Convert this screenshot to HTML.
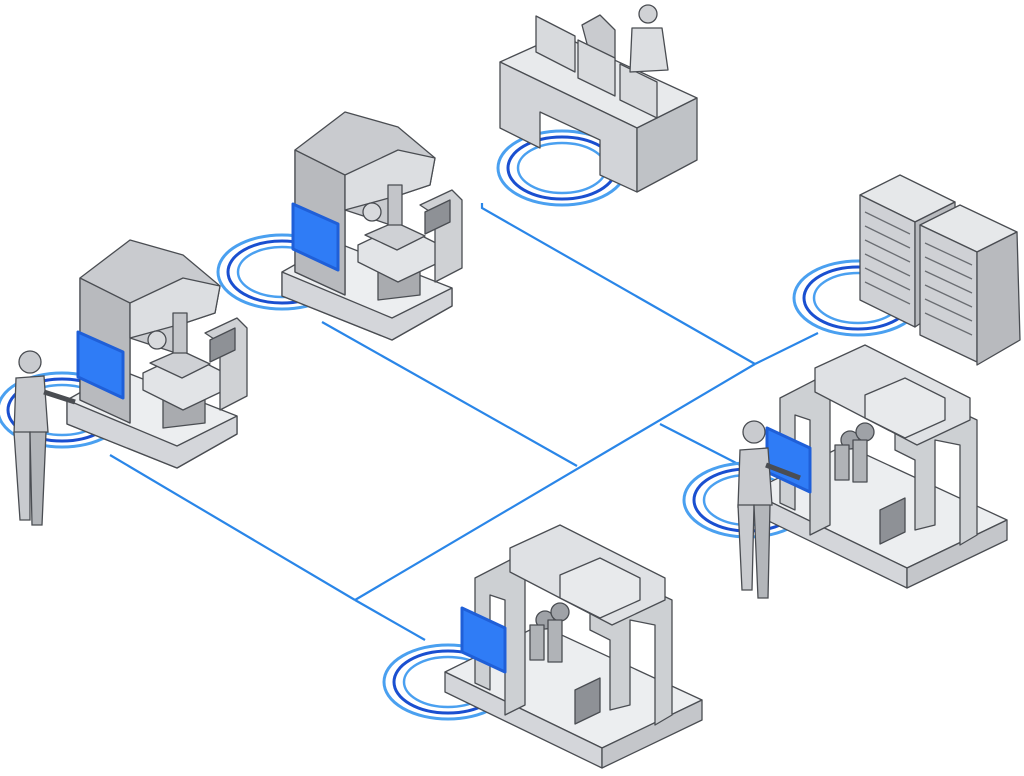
<!DOCTYPE html>
<html><head><meta charset="utf-8"><style>html,body{margin:0;padding:0;background:#fff}svg{display:block}</style></head>
<body>
<svg width="1024" height="776" viewBox="0 0 1024 776" xmlns="http://www.w3.org/2000/svg">
<defs>
<g id="ring">
<ellipse cx="0" cy="0" rx="64" ry="37" fill="none" stroke="#4aa0f0" stroke-width="3"/>
<ellipse cx="0" cy="0" rx="54" ry="31" fill="none" stroke="#1a4fd0" stroke-width="3"/>
<ellipse cx="0" cy="0" rx="44" ry="25" fill="none" stroke="#4aa0f0" stroke-width="2.5"/>
</g>
<g id="cnc" stroke="#4a4d52" stroke-width="1.3" stroke-linejoin="round">
<polygon points="282,272 335,242 452,288 452,306 392,340 282,296" fill="#eceef0"/>
<polygon points="282,272 392,318 452,288 452,306 392,340 282,296" fill="#d4d6da"/>
<polygon points="295,150 345,112 398,127 435,158 430,185 400,195 400,228 345,210 345,295 295,272" fill="#c9cbcf"/>
<polygon points="295,150 345,175 345,295 295,272" fill="#b8babe"/>
<polygon points="345,175 398,150 435,158 430,185 400,195 345,210" fill="#dcdee1"/>
<polygon points="378,265 420,250 420,295 378,300" fill="#a9abaf"/>
<polygon points="358,245 400,225 440,245 440,262 398,282 358,262" fill="#e2e4e7"/>
<polygon points="365,235 395,222 425,236 397,250" fill="#cfd1d5"/>
<rect x="388" y="185" width="14" height="40" fill="#c3c5c9"/>
<circle cx="372" cy="212" r="9" fill="#d8dadd"/>
<polygon points="420,205 452,190 462,200 462,268 435,282 435,215" fill="#cfd1d4"/>
<polygon points="425,212 450,200 450,222 425,234" fill="#8e9196"/>
<polygon points="293,204 338,224 338,270 293,249" fill="#2f7cf6" stroke="#1f5fd8" stroke-width="3"/>
</g>
<g id="robot" stroke="#4a4d52" stroke-width="1.3" stroke-linejoin="round">
<polygon points="445,672 540,625 702,700 602,748" fill="#eceef0"/>
<polygon points="445,672 602,748 602,768 445,692" fill="#d4d6da"/>
<polygon points="602,748 702,700 702,720 602,768" fill="#c4c6ca"/>
<polygon points="475,578 510,560 525,570 525,705 505,715 505,600 490,595 490,690 475,683" fill="#cdd0d3"/>
<polygon points="590,605 640,585 672,600 672,715 655,725 655,625 630,620 630,705 610,710 610,640 590,630" fill="#cdd0d3"/>
<polygon points="510,548 560,525 665,578 665,600 612,625 510,572" fill="#dfe1e4"/>
<polygon points="560,575 600,558 640,578 640,600 600,618 560,598" fill="#e8eaec"/>
<circle cx="545" cy="620" r="9" fill="#9fa2a7"/>
<circle cx="560" cy="612" r="9" fill="#9fa2a7"/>
<rect x="530" y="625" width="14" height="35" fill="#b0b3b7"/>
<rect x="548" y="620" width="14" height="42" fill="#b0b3b7"/>
<polygon points="575,690 600,678 600,712 575,724" fill="#8e9196"/>
<polygon points="462,608 505,628 505,672 462,652" fill="#2f7cf6" stroke="#1f5fd8" stroke-width="3"/>
</g>
</defs>

<g stroke="#2a86e8" stroke-width="2.2" fill="none">
<polyline points="482,203 482,208 755,364"/>
<line x1="755" y1="364" x2="818" y2="333"/>
<line x1="355" y1="600" x2="755" y2="364"/>
<line x1="322" y1="322" x2="577" y2="466"/>
<line x1="660" y1="424" x2="742" y2="466"/>
<line x1="110" y1="455" x2="355" y2="600"/>
<line x1="355" y1="600" x2="425" y2="640"/>
</g>

<use href="#ring" transform="translate(562,168)"/>
<use href="#ring" transform="translate(282,272)"/>
<use href="#ring" transform="translate(62,410)"/>
<use href="#ring" transform="translate(858,298)"/>
<use href="#ring" transform="translate(748,500)"/>
<use href="#ring" transform="translate(448,682)"/>

<g stroke="#4a4d52" stroke-width="1.3" stroke-linejoin="round">
<polygon points="582,25 600,15 615,30 615,60 590,55" fill="#c9cbcf"/>
<polygon points="500,62 560,35 697,98 637,128" fill="#e8eaec"/>
<polygon points="500,62 637,128 637,192 600,175 600,140 540,112 540,148 500,128" fill="#d2d4d8"/>
<polygon points="637,128 697,98 697,160 637,192" fill="#bfc2c6"/>
<polygon points="536,16 575,36 575,72 536,52" fill="#d8dadd"/>
<polygon points="578,40 615,58 615,96 578,78" fill="#d8dadd"/>
<polygon points="620,64 657,82 657,118 620,100" fill="#d8dadd"/>
<circle cx="648" cy="14" r="9" fill="#d0d2d5"/>
<polygon points="632,28 662,28 668,70 630,72" fill="#dcdee1"/>
</g>

<use href="#cnc"/>
<use href="#cnc" transform="translate(-215,128)"/>

<!-- server racks -->
<g stroke="#4a4d52" stroke-width="1.3" stroke-linejoin="round">
<polygon points="860,195 900,175 955,202 915,222" fill="#e6e8ea"/>
<polygon points="860,195 915,222 915,327 860,300" fill="#cfd1d5"/>
<polygon points="915,222 955,202 955,300 915,327" fill="#b8babe"/>
<polygon points="920,225 960,205 1017,232 977,252" fill="#e6e8ea"/>
<polygon points="920,225 977,252 977,362 920,335" fill="#cfd1d5"/>
<polygon points="977,252 1017,232 1020,340 977,365" fill="#b8babe"/>
<g stroke="#6a6d72" fill="none">
<line x1="865" y1="212" x2="910" y2="234"/><line x1="865" y1="226" x2="910" y2="248"/>
<line x1="865" y1="240" x2="910" y2="262"/><line x1="865" y1="254" x2="910" y2="276"/>
<line x1="865" y1="268" x2="910" y2="290"/><line x1="865" y1="282" x2="910" y2="304"/>
<line x1="925" y1="243" x2="972" y2="265"/><line x1="925" y1="257" x2="972" y2="279"/>
<line x1="925" y1="271" x2="972" y2="293"/><line x1="925" y1="285" x2="972" y2="307"/>
<line x1="925" y1="299" x2="972" y2="321"/><line x1="925" y1="313" x2="972" y2="335"/>
</g>
</g>

<use href="#robot"/>
<use href="#robot" transform="translate(305,-180)"/>

<g stroke="#4a4d52" stroke-width="1.3" fill="#c9cbcf">
<circle cx="30" cy="362" r="11"/>
<polygon points="16,378 44,376 48,432 14,434"/>
<polygon points="14,432 30,432 30,520 20,520"/>
<polygon points="30,432 46,432 42,525 32,525" fill="#b3b6ba"/>
<line x1="44" y1="392" x2="75" y2="402" stroke-width="5"/>
<circle cx="754" cy="432" r="11"/>
<polygon points="740,450 768,448 772,505 738,507"/>
<polygon points="738,505 754,505 752,590 742,590"/>
<polygon points="754,505 770,505 768,598 758,598" fill="#b3b6ba"/>
<line x1="766" y1="465" x2="800" y2="478" stroke-width="5"/>
</g>
</svg>
</body></html>
